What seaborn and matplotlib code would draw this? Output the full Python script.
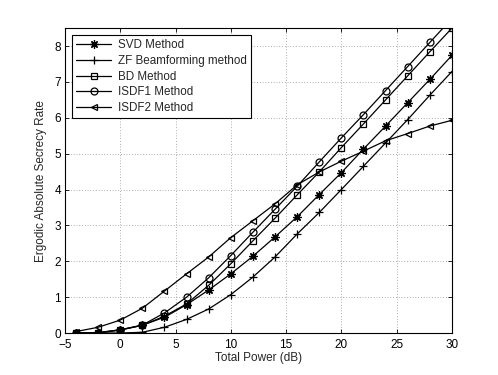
import numpy as np
import pandas as pd
import matplotlib
matplotlib.use("Agg")
import matplotlib.pyplot as plt
import seaborn as sns

power_db = [-4, -2, 0, 2, 4, 6, 8, 10, 12, 14, 16, 18, 20, 22, 24, 26, 28, 30]
svd = [0.0, 0.0, 0.08, 0.22, 0.44, 0.79, 1.20, 1.65, 2.14, 2.68, 3.24, 3.86, 4.47, 5.13, 5.77, 6.42, 7.07, 7.74]
zf = [0.0, 0.0, 0.0, 0.02, 0.16, 0.38, 0.67, 1.07, 1.56, 2.12, 2.76, 3.36, 4.00, 4.65, 5.30, 5.95, 6.63, 7.29]
bd = [0.0, 0.01, 0.09, 0.21, 0.47, 0.81, 1.33, 1.93, 2.57, 3.20, 3.85, 4.49, 5.17, 5.83, 6.50, 7.17, 7.84, 8.50]
isdf1 = [0.0, 0.01, 0.09, 0.22, 0.56, 1.00, 1.54, 2.16, 2.81, 3.45, 4.09, 4.77, 5.44, 6.09, 6.76, 7.43, 8.10, 8.77]
isdf2 = [0.04, 0.16, 0.36, 0.69, 1.17, 1.65, 2.12, 2.66, 3.13, 3.60, 4.13, 4.49, 4.79, 5.07, 5.36, 5.56, 5.77, 5.93]

labels = ["SVD Method", "ZF Beamforming method", "BD Method", "ISDF1 Method", "ISDF2 Method"]
series = [svd, zf, bd, isdf1, isdf2]
markers = [(8, 2, 0), "+", "s", "o", "<"]
msizes = [6, 6, 4, 5, 5]

sns.set_theme(style="white")
plt.rcParams["font.family"] = ["Liberation Sans", "DejaVu Sans"]

fig = plt.figure(figsize=(4.98, 3.75), dpi=100)
ax = fig.add_axes([0.1305, 0.112, 0.777, 0.813])

for lab, vals, mk, ms in zip(labels, series, markers, msizes):
    df = pd.DataFrame({"x": power_db, "y": vals})
    sns.lineplot(data=df, x="x", y="y", ax=ax, color="black", linewidth=0.9,
                 marker=mk, markersize=ms, markerfacecolor="none",
                 markeredgecolor="black", markeredgewidth=0.9, label=lab)

ax.set_xlim(-5, 30)
ax.set_ylim(0, 8.5)
ax.set_xticks([-5, 0, 5, 10, 15, 20, 25, 30])
ax.set_yticks(range(0, 9))
ax.grid(True, linestyle=(0, (1, 3)), color="#666666", linewidth=0.5)
for s in ax.spines.values():
    s.set_color("black")
    s.set_linewidth(0.8)
ax.tick_params(direction="in", length=3, width=0.6, colors="black", labelsize=8.5,
               top=True, right=True, bottom=True, left=True)
ax.tick_params(axis="x", pad=4)
ax.tick_params(axis="y", pad=3)
ax.set_xlabel("Total Power (dB)", fontsize=8.5, labelpad=1)
ax.set_ylabel("Ergodic Absolute Secrecy Rate", fontsize=8.5, labelpad=5)

leg = ax.legend(loc="upper left", fontsize=8.4, frameon=True, fancybox=False,
                edgecolor="black", framealpha=1, borderaxespad=0.6,
                labelspacing=0.32, handlelength=3.0, handletextpad=0.6,
                borderpad=0.35)
leg.get_frame().set_linewidth(0.8)

fig.savefig("out.png", dpi=100)
